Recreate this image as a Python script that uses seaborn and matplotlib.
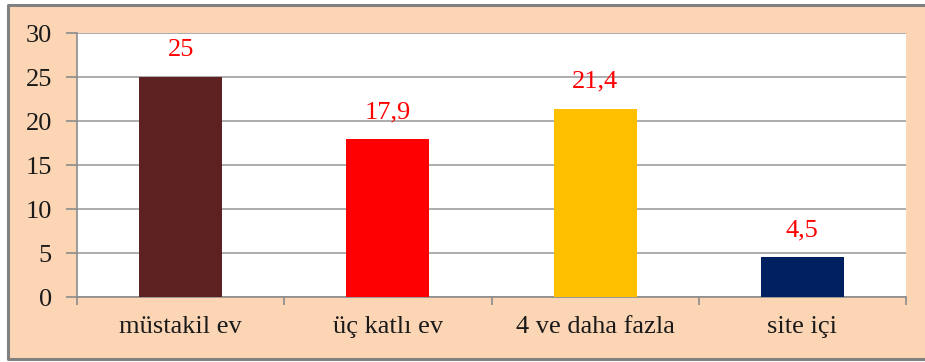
import matplotlib
matplotlib.use("Agg")
import matplotlib.pyplot as plt
from matplotlib.patches import Rectangle
from matplotlib.lines import Line2D
from matplotlib.ticker import FixedLocator
import seaborn as sns
import pandas as pd

categories = ["müstakil ev", "üç katlı ev", "4 ve daha fazla", "site içi"]
values = [25, 17.9, 21.4, 4.5]
value_labels = ["25", "17,9", "21,4", "4,5"]
bar_colors = ["#5E2121", "#FF0000", "#FFC000", "#002060"]
y_ticks = [0, 5, 10, 15, 20, 25, 30]

sns.set_theme(style="white")
plt.rcParams["font.family"] = ["Liberation Serif", "DejaVu Serif"]

W, H = 925, 362
FS = 19
fig = plt.figure(figsize=(W / 100, H / 100), dpi=100, facecolor="white")

# peach chart-area frame, grey border on top, left and bottom
x0, y0, y1 = 8 / W, 3 / H, 357 / H
fig.patches.append(Rectangle((x0, y0), 1.0 - x0, y1 - y0,
                             transform=fig.transFigure, facecolor="#FCD5B5",
                             edgecolor="none", zorder=-10))
fig.lines.append(Line2D([1.0, x0, x0, 1.0], [y1, y1, y0, y0],
                        transform=fig.transFigure, color="#808080",
                        linewidth=2.2, solid_capstyle="butt", zorder=-9))

ax = fig.add_axes([77 / W, (H - 297) / H, (906 - 77) / W, (297 - 33) / H])
ax.set_facecolor("white")

df = pd.DataFrame({"kategori": categories, "deger": values})
sns.barplot(data=df, x="kategori", y="deger", hue="kategori",
            palette=bar_colors, width=0.4, legend=False, ax=ax,
            saturation=1, linewidth=0, zorder=3)

ax.set_xlim(-0.5, len(categories) - 0.5)
ax.set_ylim(0, 30)
ax.set_yticks(y_ticks)
ax.set_yticklabels([str(t) for t in y_ticks], fontsize=FS, color="#1a1a1a")
ax.set_xticks(range(len(categories)))
ax.set_xticklabels(categories, fontsize=FS, color="#1a1a1a")
ax.xaxis.set_minor_locator(FixedLocator([i - 0.5 for i in range(len(categories) + 1)]))
ax.tick_params(axis="x", which="major", length=0, pad=14)
ax.tick_params(axis="x", which="minor", length=6, width=1.2, color="#8c8c8c", direction="out")
ax.tick_params(axis="y", which="major", length=8, width=1.2, color="#8c8c8c", direction="out", pad=10)
ax.tick_params(axis="both", bottom=True, left=True)
ax.xaxis.set_tick_params(which="minor", bottom=True)

ax.grid(axis="y", color="#A6A6A6", linewidth=1.3, zorder=0)
ax.set_axisbelow(True)
for side in ["top", "right"]:
    ax.spines[side].set_visible(False)
for side in ["left", "bottom"]:
    ax.spines[side].set_color("#8c8c8c")
    ax.spines[side].set_linewidth(1.2)

ax.set_xlabel("")
ax.set_ylabel("")

for i, (v, lab) in enumerate(zip(values, value_labels)):
    ax.annotate(lab, (i, v), xytext=(0, 27), textcoords="offset pixels",
                ha="center", va="center", color="#FF0000", fontsize=FS)

fig.savefig("out.png", dpi=100, facecolor=fig.get_facecolor())
